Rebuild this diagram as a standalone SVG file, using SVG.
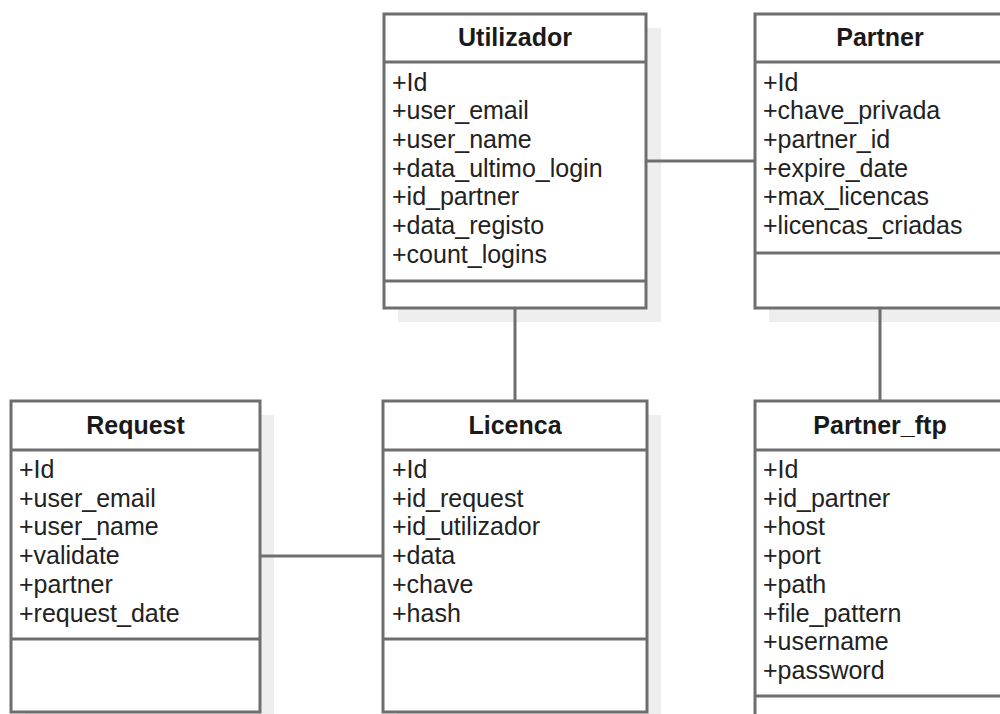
<svg xmlns="http://www.w3.org/2000/svg" width="1000" height="714" viewBox="0 0 1000 714">
  <style>
    .shadow { fill: #eeeeee; stroke: none; }
    .box { fill: #ffffff; stroke: #6e6e6e; stroke-width: 3; }
    .sep { stroke: #6e6e6e; stroke-width: 3; fill: none; }
    .link { stroke: #6e6e6e; stroke-width: 3; fill: none; }
    .title { font-family: "Liberation Sans", Arial, sans-serif; font-size: 25px; font-weight: bold; fill: #1a1a1a; text-anchor: middle; }
    .attr { font-family: "Liberation Sans", Arial, sans-serif; font-size: 25px; fill: #222222; }
  </style>
  <rect width="1000" height="714" fill="#ffffff"/>

  <!-- drop shadows sit beneath everything -->
  <g id="shadows">
    <rect class="shadow" x="398" y="28" width="263" height="294"/>
    <rect class="shadow" x="769" y="28" width="250" height="294"/>
    <rect class="shadow" x="25" y="415" width="249" height="311"/>
    <rect class="shadow" x="397" y="415" width="264" height="311"/>
    <rect class="shadow" x="769" y="415" width="250" height="311"/>
  </g>

  <g id="connectors">
    <line class="link" x1="646" y1="161" x2="755" y2="161"/>
    <line class="link" x1="515" y1="308" x2="515" y2="401"/>
    <line class="link" x1="880" y1="308" x2="880" y2="401"/>
    <line class="link" x1="260" y1="556" x2="383" y2="556"/>
  </g>

  <g id="utilizador">
    <rect class="box" x="384" y="14" width="262" height="294"/>
    <line class="sep" x1="384" y1="62" x2="646" y2="62"/>
    <line class="sep" x1="384" y1="281" x2="646" y2="281"/>
    <text class="title" x="515" y="46">Utilizador</text>
    <text class="attr" x="392" y="90.5">+Id</text>
    <text class="attr" x="392" y="119.2">+user_email</text>
    <text class="attr" x="392" y="147.9">+user_name</text>
    <text class="attr" x="392" y="176.6">+data_ultimo_login</text>
    <text class="attr" x="392" y="205.3">+id_partner</text>
    <text class="attr" x="392" y="234">+data_registo</text>
    <text class="attr" x="392" y="262.7">+count_logins</text>
  </g>

  <g id="partner">
    <rect class="box" x="755" y="14" width="250" height="294"/>
    <line class="sep" x1="755" y1="62" x2="1005" y2="62"/>
    <line class="sep" x1="755" y1="253" x2="1005" y2="253"/>
    <text class="title" x="880" y="46">Partner</text>
    <text class="attr" x="763" y="90.5">+Id</text>
    <text class="attr" x="763" y="119.2">+chave_privada</text>
    <text class="attr" x="763" y="147.9">+partner_id</text>
    <text class="attr" x="763" y="176.6">+expire_date</text>
    <text class="attr" x="763" y="205.3">+max_licencas</text>
    <text class="attr" x="763" y="234">+licencas_criadas</text>
  </g>

  <g id="request">
    <rect class="box" x="11" y="401" width="249" height="311"/>
    <line class="sep" x1="11" y1="450" x2="260" y2="450"/>
    <line class="sep" x1="11" y1="639" x2="260" y2="639"/>
    <text class="title" x="135.5" y="434">Request</text>
    <text class="attr" x="19" y="478">+Id</text>
    <text class="attr" x="19" y="506.7">+user_email</text>
    <text class="attr" x="19" y="535.4">+user_name</text>
    <text class="attr" x="19" y="564.1">+validate</text>
    <text class="attr" x="19" y="592.8">+partner</text>
    <text class="attr" x="19" y="621.5">+request_date</text>
  </g>

  <g id="licenca">
    <rect class="box" x="383" y="401" width="264" height="311"/>
    <line class="sep" x1="383" y1="450" x2="647" y2="450"/>
    <line class="sep" x1="383" y1="639" x2="647" y2="639"/>
    <text class="title" x="515" y="434">Licenca</text>
    <text class="attr" x="392" y="478">+Id</text>
    <text class="attr" x="392" y="506.7">+id_request</text>
    <text class="attr" x="392" y="535.4">+id_utilizador</text>
    <text class="attr" x="392" y="564.1">+data</text>
    <text class="attr" x="392" y="592.8">+chave</text>
    <text class="attr" x="392" y="621.5">+hash</text>
  </g>

  <g id="partner_ftp">
    <rect class="box" x="755" y="401" width="250" height="330"/>
    <line class="sep" x1="755" y1="450" x2="1005" y2="450"/>
    <line class="sep" x1="755" y1="696" x2="1005" y2="696"/>
    <text class="title" x="880" y="434">Partner_ftp</text>
    <text class="attr" x="763" y="478">+Id</text>
    <text class="attr" x="763" y="506.7">+id_partner</text>
    <text class="attr" x="763" y="535.4">+host</text>
    <text class="attr" x="763" y="564.1">+port</text>
    <text class="attr" x="763" y="592.8">+path</text>
    <text class="attr" x="763" y="621.5">+file_pattern</text>
    <text class="attr" x="763" y="650.2">+username</text>
    <text class="attr" x="763" y="678.9">+password</text>
  </g>
</svg>
